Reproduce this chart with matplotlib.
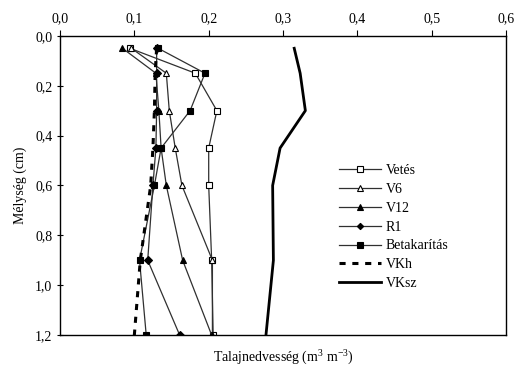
import matplotlib.pyplot as plt
from matplotlib.ticker import FuncFormatter

plt.rcParams['font.family'] = ['Liberation Serif', 'DejaVu Serif']
plt.rcParams['font.size'] = 9
plt.rcParams['mathtext.fontset'] = 'custom'
plt.rcParams['mathtext.rm'] = 'Liberation Serif'
plt.rcParams['mathtext.default'] = 'rm'

# mélység (m) és talajnedvesség (m3 m-3) mintavételenként
depth = [0.05, 0.15, 0.30, 0.45, 0.60, 0.90, 1.20]
vetes = [0.094, 0.182, 0.211, 0.200, 0.200, 0.204, 0.206]
v6 = [0.096, 0.143, 0.147, 0.155, 0.164, 0.205, 0.205]
v12 = [0.084, 0.129, 0.133, 0.136, 0.143, 0.165, 0.204]
r1 = [0.130, 0.130, 0.130, 0.129, 0.125, 0.118, 0.161]
betakaritas = [0.132, 0.195, 0.175, 0.136, 0.127, 0.107, 0.116]
vkh = [0.130, 0.128, 0.127, 0.125, 0.122, 0.108, 0.100]
vksz = [0.315, 0.323, 0.330, 0.296, 0.286, 0.287, 0.277]

fig = plt.figure(figsize=(5.17, 3.77), dpi=100)
ax = fig.add_axes([0.116, 0.111, 0.863, 0.794])

line_kw = dict(color='#303030', lw=0.9, ms=5, markeredgecolor='black', markeredgewidth=0.8)
ax.plot(vetes, depth, marker='s', markerfacecolor='white', label='Vetés', **line_kw)
ax.plot(v6, depth, marker='^', markerfacecolor='white', label='V6', **line_kw)
ax.plot(v12, depth, marker='^', markerfacecolor='black', label='V12', **line_kw)
ax.plot(r1, depth, marker='D', markerfacecolor='black', label='R1', **dict(line_kw, ms=4))
ax.plot(betakaritas, depth, marker='s', markerfacecolor='black', label='Betakarítás', **line_kw)
ax.plot(vkh, depth, color='black', lw=2.2, linestyle=(0, (2, 2.2)), label='VKh')
ax.plot(vksz, depth, color='black', lw=2.0, label='VKsz')

ax.set_xlim(0, 0.6)
ax.set_ylim(1.2, 0.0)
ax.set_xticks([0, 0.1, 0.2, 0.3, 0.4, 0.5, 0.6])
ax.set_yticks([0, 0.2, 0.4, 0.6, 0.8, 1.0, 1.2])
comma = FuncFormatter(lambda v, p: f'{v:.1f}'.replace('.', ','))
ax.xaxis.set_major_formatter(comma)
ax.yaxis.set_major_formatter(comma)
ax.xaxis.tick_top()
ax.tick_params(axis='x', direction='out', length=4, width=0.8, pad=4, labelsize=10)
ax.tick_params(axis='y', direction='inout', length=5, width=0.8, pad=3, labelsize=10)
for s in ax.spines.values():
    s.set_linewidth(1.0)

ax.set_ylabel('Mélység (cm)', fontsize=10, labelpad=6)
ax.set_xlabel('Talajnedvesség (m$^3$ m$^{-3}$)', fontsize=10, labelpad=10)
ax.xaxis.set_label_position('bottom')

ax.legend(loc='upper left', bbox_to_anchor=(0.614, 0.59), frameon=False,
          fontsize=10, handlelength=3.0, handletextpad=0.35, markerscale=0.8,
          labelspacing=0.42, borderaxespad=0)

fig.savefig('out.png', dpi=100)
